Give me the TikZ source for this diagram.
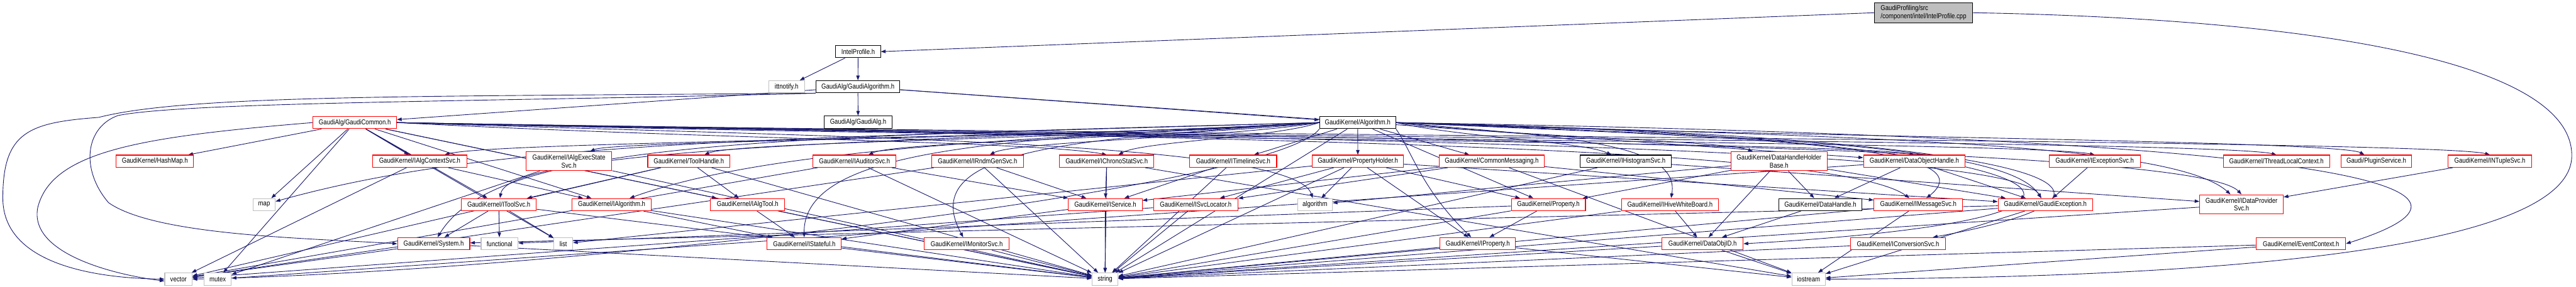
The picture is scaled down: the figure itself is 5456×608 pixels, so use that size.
\documentclass[tikz,border=0pt]{standalone}
\usepackage{fontspec}
\newfontfamily\dfont{Liberation Sans}[FakeStretch=0.85]
\usetikzlibrary{arrows.meta,backgrounds}
\definecolor{edgec}{HTML}{191970}
\definecolor{greyb}{HTML}{BFBFBF}
\definecolor{redb}{HTML}{FF0000}
\begin{document}
\begin{tikzpicture}[x=0.5pt,y=-0.5pt,
  base/.style={draw,fill=white,inner sep=0pt,line width=0.7pt,
    font=\dfont\fontsize{7.5}{8.6}\selectfont,align=center,minimum height=13pt},
  rb/.style={base,draw=redb},
  kb/.style={base,draw=black},
  gb/.style={base,draw=greyb},
  wd/.style={minimum width=#1*0.5pt},
  two/.style={minimum height=20pt},
  ed/.style={draw=edgec,line width=0.6pt,-{Triangle[length=5pt,width=3.6pt]}}]
\useasboundingbox (0,0) rectangle (5456,608);
% row 1-4
\node[kb,fill=greyb,wd=208,minimum height=21pt,align=left] (cpp) at (4074,27) {GaudiProfiling/src\\/component/intel/IntelProfile.cpp};
\node[kb,wd=95] (iph) at (1817.5,109.5) {IntelProfile.h};
\node[gb,wd=76] (itt) at (1666,184) {ittnotify.h};
\node[kb,wd=178] (galgo) at (1817,184) {GaudiAlg/GaudiAlgorithm.h};
\node[kb,wd=143] (galg) at (1817.5,259) {GaudiAlg/GaudiAlg.h};
\node[rb,wd=177] (gcom) at (751.5,260) {GaudiAlg/GaudiCommon.h};
\node[kb,wd=161] (algo) at (2875.5,260) {GaudiKernel/Algorithm.h};
% row 5
\node[rb,wd=164] (hash) at (328,342) {GaudiKernel/HashMap.h};
\node[rb,wd=200] (actx) at (889,342) {GaudiKernel/IAlgContextSvc.h};
\node[rb,wd=182,two] (aexec) at (1205,342) {GaudiKernel/IAlgExecState\\Svc.h};
\node[rb,wd=174] (thnd) at (1459,342) {GaudiKernel/ToolHandle.h};
\node[rb,wd=176] (aud) at (1810,342) {GaudiKernel/IAuditorSvc.h};
\node[rb,wd=195] (rndm) at (2070.5,342) {GaudiKernel/IRndmGenSvc.h};
\node[rb,wd=200] (chrono) at (2344,342) {GaudiKernel/IChronoStatSvc.h};
\node[rb,wd=184] (tline) at (2612,342) {GaudiKernel/ITimelineSvc.h};
\node[rb,wd=194] (pholder) at (2876,342) {GaudiKernel/PropertyHolder.h};
\node[rb,wd=223] (cmsg) at (3159.5,342) {GaudiKernel/CommonMessaging.h};
\node[kb,wd=193] (histo) at (3443.5,342) {GaudiKernel/IHistogramSvc.h};
\node[rb,wd=204,two] (dhhb) at (3768,342) {GaudiKernel/DataHandleHolder\\Base.h};
\node[rb,wd=215] (doh) at (4054.5,342) {GaudiKernel/DataObjectHandle.h};
\node[rb,wd=193] (exc) at (4436.5,342) {GaudiKernel/IExceptionSvc.h};
\node[rb,wd=225] (tlc) at (4821.5,342) {GaudiKernel/ThreadLocalContext.h};
\node[rb,wd=150] (plug) at (5033,342) {Gaudi/PluginService.h};
\node[rb,wd=177] (ntup) at (5273.5,342) {GaudiKernel/INTupleSvc.h};
% row 6
\node[gb,wd=47] (map) at (559.5,434) {map};
\node[rb,wd=159] (tsvc) at (1056.5,434) {GaudiKernel/IToolSvc.h};
\node[rb,wd=167] (ialg) at (1295.5,434) {GaudiKernel/IAlgorithm.h};
\node[rb,wd=157] (atool) at (1583.5,434) {GaudiKernel/IAlgTool.h};
\node[rb,wd=156] (isvc) at (2341,434) {GaudiKernel/IService.h};
\node[rb,wd=179] (svcloc) at (2532.5,434) {GaudiKernel/ISvcLocator.h};
\node[gb,wd=74] (algm) at (2785,434) {algorithm};
\node[rb,wd=157] (prop) at (3279.5,434) {GaudiKernel/Property.h};
\node[rb,wd=206] (hive) at (3537,434) {GaudiKernel/IHiveWhiteBoard.h};
\node[kb,wd=177] (dh) at (3855.5,434) {GaudiKernel/DataHandle.h};
\node[rb,wd=188] (msg) at (4063,434) {GaudiKernel/IMessageSvc.h};
\node[rb,wd=200] (gexc) at (4332,434) {GaudiKernel/GaudiException.h};
\node[rb,wd=177,minimum height=20.5pt] (dps) at (4747.5,433.5) {GaudiKernel/IDataProvider\\Svc.h};
% row 7
\node[rb,wd=153] (sys) at (918.5,517) {GaudiKernel/System.h};
\node[gb,wd=78] (func) at (1058,517) {functional};
\node[gb,wd=40] (list) at (1193,517) {list};
\node[rb,wd=157] (stateful) at (1703.5,517) {GaudiKernel/IStateful.h};
\node[rb,wd=179] (mon) at (2047.5,517) {GaudiKernel/IMonitorSvc.h};
\node[rb,wd=160] (iprop) at (3130,517) {GaudiKernel/IProperty.h};
\node[rb,wd=172] (doid) at (3606,517) {GaudiKernel/DataObjID.h};
\node[rb,wd=202] (conv) at (4020,517) {GaudiKernel/IConversionSvc.h};
\node[rb,wd=189] (evctx) at (4873.5,517) {GaudiKernel/EventContext.h};
% row 8
\node[gb,wd=58] (vec) at (378,592) {vector};
\node[gb,wd=58] (mutex) at (461,592) {mutex};
\node[gb,wd=55] (str) at (2340.5,592) {string};
\node[gb,wd=71] (iostr) at (3830.5,592) {iostream};

\begin{scope}[on background layer]
\fill[white] (0,0) rectangle (5456,608);
\draw[ed] (cpp.west) -- (iph.east);
\draw[ed] (cpp.east) .. controls (4900,40) and (5447,130) .. (5447,330) .. controls (5447,555) and (4500,590) .. (iostr.east);
\draw[ed] (galgo.south west) .. controls (900,205) and (400,200) .. (209,249) .. controls (60,260) and (6,280) .. (6,420) .. controls (6,560) and (200,590) .. (vec.west);
\draw[ed] (galgo.south west) .. controls (1100,215) and (400,215) .. (250,245) .. controls (180,270) and (170,360) .. (230,430) .. controls (330,500) and (650,505) .. (sys.west);
\draw[ed] (gcom.west) .. controls (300,290) and (110,320) .. (80,440) .. controls (60,540) and (250,584) .. ([yshift=-2pt]vec.west);
% GaudiCommon bundle
\draw[ed] (gcom.east) .. controls (1500,295) and (2200,300) .. (chrono.north);
\draw[ed] (gcom.east) .. controls (2200,295) and (3900,300) .. (doh.north);
\draw[ed] (gcom.east) .. controls (2300,293) and (4300,300) .. (exc.north);
\draw[ed] (gcom.east) .. controls (2400,291) and (4700,298) .. (tlc.north);
\draw[ed] (gcom.east) .. controls (2500,289) and (5150,296) .. (ntup.north);
\draw[ed] (gcom.east) .. controls (2600,290) and (4640,300) .. (dps.north);
\draw[ed] (gcom.east) .. controls (2400,292) and (3880,300) .. (msg);
\draw[ed] (gcom.east) .. controls (2500,292) and (4250,300) .. (gexc);
\draw[ed] (gcom.east) .. controls (1800,292) and (2740,300) .. (algm);
% Algorithm bundle
\draw[ed] (algo.west) .. controls (2300,292) and (1050,300) .. (actx);
\draw[ed] (algo.west) .. controls (2300,292) and (1300,298) .. (aexec);
\draw[ed] (algo.west) .. controls (2400,292) and (1560,300) .. (thnd);
\draw[ed] (algo.west) .. controls (2500,292) and (1900,300) .. (aud);
\draw[ed] (algo.west) .. controls (2600,292) and (2150,300) .. (rndm);
\draw[ed] (algo.west) .. controls (2700,292) and (2420,300) .. (chrono);
\draw[ed] (algo.east) .. controls (3100,292) and (3350,300) .. (histo);
\draw[ed] (algo.east) .. controls (3200,290) and (3650,298) .. (dhhb);
\draw[ed] (algo.east) .. controls (3600,288) and (4950,297) .. (plug);
\draw[ed] (algo.west) .. controls (2200,295) and (1080,300) .. (tsvc);
\draw[ed] (algo.west) .. controls (2200,295) and (1640,310) .. (ialg);
\draw[ed] (algo.west) .. controls (1600,295) and (1040,300) .. (map);
\draw[ed] (algo.west) .. controls (1600,292) and (1050,300) .. (sys);
\draw[ed] (algo.west) .. controls (2200,295) and (1700,300) .. (stateful);
\draw[ed] (algo.west) .. controls (2300,295) and (1935,310) .. (mon);
\draw[ed] (algo.south east) .. controls (2990,320) and (3010,400) .. (iprop);
\draw[ed] (algo.east) .. controls (3300,290) and (3560,300) .. (hive);
\draw[ed] (algo.east) .. controls (3600,290) and (4230,300) .. (msg);
\draw[ed] (algo.east) .. controls (3700,290) and (4250,305) .. (gexc);
\draw[ed] (algo.east) .. controls (3900,290) and (4600,300) .. (dps);
\draw[ed] (algo.east) .. controls (4300,290) and (4650,400) .. (conv);
\draw[ed] (algo.east) .. controls (4400,290) and (4700,460) .. (doid.east);
\draw[ed] (algo.east) .. controls (4800,290) and (5400,380) .. (evctx.east);
\draw[ed] (algo.south west) .. controls (2700,400) and (1200,575) .. (vec.east);
% straight connectors
\foreach \a/\b in {iph/itt, iph/galgo, galgo/galg, galgo/gcom, galgo/algo, galgo/doh,
  gcom/hash, gcom/actx, gcom/map, gcom/mutex, gcom/tsvc, gcom/ialg, gcom/atool, gcom/list, gcom/str,
  algo/tline, algo/pholder, algo/cmsg, algo/str, algo/prop,
  actx/ialg, actx/vec, aexec/mutex, aexec/str,
  thnd/tsvc, thnd/atool, thnd/vec, thnd/str,
  aud/isvc, aud/str, aud/vec, rndm/isvc, rndm/str, rndm/vec,
  chrono/isvc, chrono/str, chrono/iostr, tline/isvc, tline/str,
  pholder/prop, pholder/iprop, pholder/svcloc, pholder/algm, pholder/gexc, pholder/str, pholder/list,
  cmsg/msg, cmsg/svcloc, cmsg/isvc, cmsg/iostr, histo/dps, histo/str,
  dhhb/dh, dhhb/doid, dhhb/algm, dhhb/gexc, dhhb/prop,
  doh/dh, doh/gexc, doh/mutex, exc/gexc, ntup/dps,
  tsvc/sys, tsvc/func, tsvc/list, tsvc/str, ialg/stateful, ialg/str,
  atool/stateful, atool/str, isvc/stateful, isvc/str, svcloc/str, svcloc/vec,
  prop/iprop, prop/str, prop/func, hive/doid, hive/str, dh/doid,
  msg/str, msg/iostr, gexc/sys, gexc/str, gexc/iostr, dps/str,
  sys/vec, sys/str, stateful/str, mon/str, iprop/str, iprop/iostr,
  doid/str, doid/iostr, conv/str, evctx/iostr, evctx/str}
  \draw[ed] (\a) -- (\b);
\end{scope}
\end{tikzpicture}
\end{document}
